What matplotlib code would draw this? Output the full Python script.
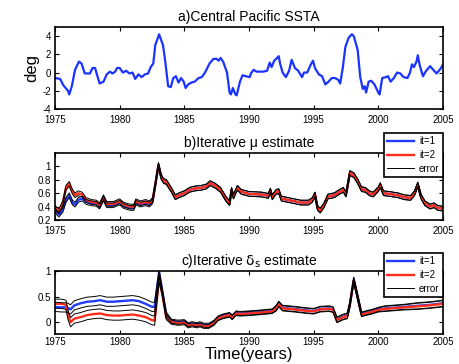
import numpy as np
import matplotlib
matplotlib.use("Agg")
import matplotlib.pyplot as plt
from matplotlib.ticker import FixedLocator, FuncFormatter

plt.rcParams['font.family'] = ['Liberation Sans', 'DejaVu Sans']
plt.rcParams['mathtext.fontset'] = 'custom'
plt.rcParams['mathtext.rm'] = 'DejaVu Sans'

# ---------------- data ----------------
# a) Central Pacific SSTA
ta = [1975.0, 1975.4, 1975.65, 1976.0, 1976.1, 1976.3, 1976.55, 1976.85, 1977.05, 1977.3,
      1977.5, 1977.7, 1977.9, 1978.1, 1978.2, 1978.45, 1978.75, 1979.0, 1979.25, 1979.45,
      1979.65, 1979.8, 1980.0, 1980.25, 1980.5, 1980.75, 1981.0, 1981.2, 1981.45, 1981.7,
      1981.95, 1982.2, 1982.4, 1982.6, 1982.75, 1983.05, 1983.35, 1983.5, 1983.75, 1983.95,
      1984.15, 1984.35, 1984.55, 1984.75, 1984.95, 1985.1, 1985.3, 1985.55, 1985.8, 1986.1,
      1986.35, 1986.6, 1986.95, 1987.25, 1987.5, 1987.65, 1987.8, 1988.0, 1988.3, 1988.5,
      1988.6, 1988.75, 1988.95, 1989.05, 1989.3, 1989.5, 1989.75, 1990.05, 1990.15, 1990.35,
      1990.6, 1990.85, 1991.1, 1991.4, 1991.6, 1991.75, 1991.95, 1992.1, 1992.3, 1992.4,
      1992.6, 1992.85, 1993.1, 1993.3, 1993.55, 1993.8, 1994.1, 1994.25, 1994.5, 1994.75,
      1994.95, 1995.1, 1995.4, 1995.65, 1995.9, 1996.15, 1996.4, 1996.65, 1996.9, 1997.05,
      1997.25, 1997.45, 1997.7, 1997.95, 1998.1, 1998.4, 1998.6, 1998.8, 1998.95, 1999.05,
      1999.25, 1999.45, 1999.7, 2000.0, 2000.1, 2000.3, 2000.6, 2000.75, 2000.95, 2001.2,
      2001.45, 2001.7, 2001.95, 2002.25, 2002.45, 2002.6, 2002.75, 2002.95, 2003.05, 2003.2,
      2003.45, 2003.7, 2004.0, 2004.25, 2004.5, 2004.8, 2005.0]
ssta = [-0.6, -0.7, -1.4, -2.0, -2.4, -1.5, 0.3, 1.2, 1.0, -0.1,
        -0.1, -0.1, 0.5, 0.5, 0.0, -1.2, -1.0, -0.2, 0.1, -0.1,
        0.1, 0.5, 0.5, 0.0, 0.2, -0.1, 0.0, -0.7, -0.2, -0.5,
        -0.2, -0.1, 0.6, 1.0, 3.0, 4.2, 3.0, 1.5, -1.5, -1.6,
        -0.6, -0.4, -1.1, -0.6, -1.0, -1.7, -1.3, -1.1, -1.0, -0.6,
        -0.5, 0.0, 1.0, 1.5, 1.5, 1.3, 1.6, 1.2, 0.0, -2.2,
        -2.4, -1.7, -2.4, -2.5, -1.0, -0.3, -0.4, -0.5, -0.1, 0.3,
        0.1, 0.1, 0.1, 0.2, 1.1, 0.6, 1.3, 1.5, 1.8, 1.0,
        0.0, -0.5, 0.2, 1.4, 0.5, 0.2, -0.5, 0.0, 0.0, 0.8,
        1.3, 0.5, -0.2, -0.4, -1.3, -1.0, -0.6, -0.6, -0.8, -1.2,
        0.5, 2.8, 3.8, 4.2, 4.0, 2.5, -0.5, -1.8, -1.5, -2.2,
        -1.0, -0.9, -1.3, -2.2, -2.4, -0.6, -0.5, -0.4, -1.0, -0.6,
        0.0, -0.1, -0.5, -0.6, 0.0, 0.9, 0.6, 1.2, 1.9, 0.8,
        -0.4, 0.2, 0.7, 0.3, -0.1, 0.4, 0.9]

# b) Iterative mu estimate
tb = [1975.0, 1975.3, 1975.6, 1975.85, 1976.1, 1976.35, 1976.55, 1976.8, 1977.1, 1977.4,
      1977.8, 1978.2, 1978.45, 1978.75, 1979.0, 1979.5, 1980.0, 1980.3, 1980.8, 1981.1,
      1981.25, 1981.6, 1982.0, 1982.3, 1982.55, 1982.8, 1983.0, 1983.2, 1983.4, 1983.6,
      1984.0, 1984.3, 1984.6, 1985.0, 1985.4, 1985.8, 1986.3, 1986.7, 1987.0, 1987.4,
      1987.8, 1988.2, 1988.5, 1988.65, 1988.8, 1989.1, 1989.4, 1990.0, 1991.0, 1991.5,
      1991.65, 1991.8, 1992.1, 1992.3, 1992.5, 1993.0, 1993.5, 1994.0, 1994.6, 1994.9,
      1995.1, 1995.3, 1995.5, 1995.8, 1996.1, 1996.6, 1997.0, 1997.3, 1997.5, 1997.8,
      1998.1, 1998.4, 1998.7, 1999.0, 1999.3, 1999.6, 2000.0, 2000.15, 2000.4, 2000.8,
      2001.5, 2002.0, 2002.5, 2002.8, 2003.05, 2003.3, 2003.6, 2004.0, 2004.3, 2004.6,
      2005.0]
mu_it2 = [0.38, 0.33, 0.45, 0.68, 0.74, 0.62, 0.57, 0.60, 0.58, 0.50,
          0.47, 0.46, 0.42, 0.54, 0.44, 0.44, 0.48, 0.43, 0.40, 0.40,
          0.48, 0.45, 0.47, 0.45, 0.50, 0.78, 1.02, 0.85, 0.78, 0.77,
          0.65, 0.54, 0.57, 0.60, 0.65, 0.67, 0.68, 0.70, 0.75, 0.71,
          0.65, 0.52, 0.45, 0.65, 0.55, 0.68, 0.62, 0.59, 0.58, 0.56,
          0.64, 0.54, 0.62, 0.63, 0.52, 0.50, 0.48, 0.46, 0.46, 0.50,
          0.58, 0.38, 0.34, 0.42, 0.55, 0.57, 0.62, 0.65, 0.58, 0.90,
          0.87, 0.78, 0.66, 0.65, 0.60, 0.58, 0.66, 0.72, 0.60, 0.59,
          0.57, 0.54, 0.53, 0.60, 0.73, 0.55, 0.45, 0.40, 0.42, 0.38,
          0.37]
mu_it1 = [0.34, 0.28, 0.35, 0.50, 0.57, 0.46, 0.43, 0.50, 0.52, 0.47,
          0.45, 0.44, 0.40, 0.52, 0.42, 0.42, 0.46, 0.41, 0.38, 0.38,
          0.46, 0.43, 0.45, 0.43, 0.48, 0.78, 1.02, 0.85, 0.78, 0.77,
          0.65, 0.54, 0.57, 0.60, 0.65, 0.67, 0.68, 0.70, 0.75, 0.71,
          0.65, 0.52, 0.45, 0.65, 0.55, 0.68, 0.62, 0.59, 0.58, 0.56,
          0.64, 0.54, 0.62, 0.63, 0.52, 0.50, 0.48, 0.46, 0.46, 0.50,
          0.58, 0.38, 0.34, 0.42, 0.55, 0.57, 0.62, 0.65, 0.58, 0.90,
          0.87, 0.78, 0.66, 0.65, 0.60, 0.58, 0.66, 0.72, 0.60, 0.59,
          0.57, 0.54, 0.53, 0.60, 0.73, 0.55, 0.45, 0.40, 0.42, 0.38,
          0.37]
mu_err = 0.035

# c) Iterative delta_s estimate
tc = [1975.0, 1975.5, 1975.85, 1976.0, 1976.2, 1976.5, 1977.0, 1977.5, 1978.0, 1978.5,
      1979.0, 1979.5, 1980.0, 1980.5, 1981.0, 1981.5, 1982.0, 1982.5, 1982.7, 1983.05,
      1983.3, 1983.6, 1984.0, 1984.5, 1985.0, 1985.3, 1985.6, 1986.0, 1986.2, 1986.5,
      1986.9, 1987.3, 1987.6, 1988.0, 1988.5, 1988.7, 1989.0, 1989.3, 1990.0, 1991.0,
      1991.8, 1992.1, 1992.3, 1992.6, 1993.5, 1994.5, 1995.0, 1995.5, 1996.2, 1996.5,
      1996.8, 1997.2, 1997.6, 1997.8, 1998.1, 1998.4, 1998.7, 1999.0, 1999.5, 2000.0,
      2000.5, 2001.0, 2002.0, 2003.0, 2004.0, 2005.0]
ds_it1 = [0.30, 0.29, 0.29, 0.28, 0.25, 0.33, 0.37, 0.40, 0.41, 0.43,
          0.40, 0.40, 0.41, 0.42, 0.43, 0.41, 0.36, 0.30, 0.30, 0.97,
          0.60, 0.15, 0.02, 0.00, 0.01, -0.05, -0.03, -0.05, -0.03, -0.06,
          -0.06, 0.00, 0.08, 0.12, 0.15, 0.10, 0.18, 0.17, 0.18, 0.20,
          0.22, 0.28, 0.36, 0.28, 0.26, 0.23, 0.22, 0.26, 0.27, 0.25,
          0.05, 0.10, 0.13, 0.35, 0.83, 0.50, 0.16, 0.18, 0.21, 0.25,
          0.27, 0.28, 0.30, 0.32, 0.34, 0.37]
ds_it2 = [0.36, 0.36, 0.34, 0.15, 0.00, 0.07, 0.10, 0.14, 0.16, 0.17,
          0.14, 0.13, 0.13, 0.14, 0.15, 0.13, 0.10, 0.04, 0.03, 0.85,
          0.55, 0.10, 0.00, -0.02, -0.01, -0.07, -0.05, -0.07, -0.05, -0.08,
          -0.08, -0.02, 0.07, 0.11, 0.14, 0.09, 0.17, 0.16, 0.17, 0.19,
          0.21, 0.27, 0.35, 0.27, 0.25, 0.22, 0.21, 0.25, 0.26, 0.24,
          0.04, 0.09, 0.12, 0.34, 0.82, 0.48, 0.15, 0.17, 0.20, 0.24,
          0.26, 0.27, 0.29, 0.31, 0.33, 0.36]
ds_err = [0.09, 0.09, 0.09, 0.09, 0.09, 0.09, 0.09, 0.09, 0.09, 0.09,
          0.09, 0.09, 0.09, 0.09, 0.09, 0.09, 0.09, 0.09, 0.09, 0.06,
          0.05, 0.05, 0.04, 0.04, 0.04, 0.04, 0.04, 0.04, 0.04, 0.04,
          0.04, 0.04, 0.04, 0.04, 0.04, 0.04, 0.04, 0.04, 0.04, 0.04,
          0.04, 0.05, 0.05, 0.05, 0.05, 0.05, 0.05, 0.05, 0.05, 0.05,
          0.05, 0.05, 0.05, 0.05, 0.05, 0.05, 0.04, 0.04, 0.04, 0.04,
          0.05, 0.05, 0.05, 0.06, 0.06, 0.06]

xticks = [1975, 1980, 1985, 1990, 1995, 2000, 2005]

BLUE_A = '#1a33ff'
BLUE = '#1f3dff'
RED = '#ff2d1a'

# ---------------- figure ----------------
W, H = 459, 364
fig = plt.figure(figsize=(W / 100, H / 100), dpi=100)


def box(l, t, r, b):
    return [l / W, 1 - b / H, (r - l) / W, (b - t) / H]


axa = fig.add_axes(box(55, 27, 443, 109))
axb = fig.add_axes(box(55, 153, 443, 220))
axc = fig.add_axes(box(55, 271, 443, 334))

fmt = FuncFormatter(lambda v, p: ('%g' % round(v, 6)))

for ax in (axa, axb, axc):
    ax.set_xlim(1975, 2005)
    ax.xaxis.set_major_locator(FixedLocator(xticks))
    ax.tick_params(direction='in', length=3, width=0.8, labelsize=7,
                   top=True, right=True, pad=3)
    ax.tick_params(axis='x', pad=4.5)
    for s in ax.spines.values():
        s.set_linewidth(1.2)
    ax.yaxis.set_major_formatter(fmt)
axc.tick_params(axis='x', pad=2)

# a
axa.plot(ta, ssta, color=BLUE_A, lw=1.6)
axa.set_ylim(-4, 5)
axa.set_yticks([-4, -2, 0, 2, 4])
axa.set_ylabel('deg', fontsize=12, labelpad=2)
axa.set_title('a)Central Pacific SSTA', fontsize=10, pad=4)

# b
tb_a = np.array(tb)
m1 = np.array(mu_it1)
m2 = np.array(mu_it2)
lb1, = axb.plot(tb_a, m1, color=BLUE, lw=1.7)
lb2, = axb.plot(tb_a, m2, color=RED, lw=1.7)
for m in (m1, m2):
    le, = axb.plot(tb_a, m + mu_err, color='black', lw=0.7)
    axb.plot(tb_a, m - mu_err, color='black', lw=0.7)
axb.set_ylim(0.2, 1.2)
axb.set_yticks([0.2, 0.4, 0.6, 0.8, 1.0])
axb.set_title('b)Iterative μ estimate', fontsize=10, pad=4)

# c
tc_a = np.array(tc)
d1 = np.array(ds_it1)
d2 = np.array(ds_it2)
e = np.array(ds_err)
lc1, = axc.plot(tc_a, d1, color=BLUE, lw=1.7)
lc2, = axc.plot(tc_a, d2, color=RED, lw=1.7)
for d in (d1, d2):
    lce, = axc.plot(tc_a, d + e, color='black', lw=0.7)
    axc.plot(tc_a, d - e, color='black', lw=0.7)
axc.set_ylim(-0.23, 1.0)
axc.set_yticks([0, 0.5, 1])
axc.set_title(r'c)Iterative $\mathrm{\delta_s}$ estimate', fontsize=10, pad=4)
fig.text(249 / W, 1 - 362 / H, 'Time(years)', fontsize=12,
         ha='center', va='bottom')

for ax, handles, top in ((axb, (lb1, lb2, le), 133), (axc, (lc1, lc2, lce), 253)):
    leg = fig.legend(handles, ['it=1', 'it=2', 'error'], loc='upper right',
                     bbox_to_anchor=(443 / W, 1 - top / H), fontsize=7,
                     frameon=True, fancybox=False, edgecolor='black',
                     handlelength=2.8, handletextpad=0.5, borderpad=0.35,
                     labelspacing=0.38, borderaxespad=0)
    leg.get_frame().set_linewidth(1.2)
    leg.get_frame().set_alpha(1)

fig.savefig('out.png', dpi=100)
